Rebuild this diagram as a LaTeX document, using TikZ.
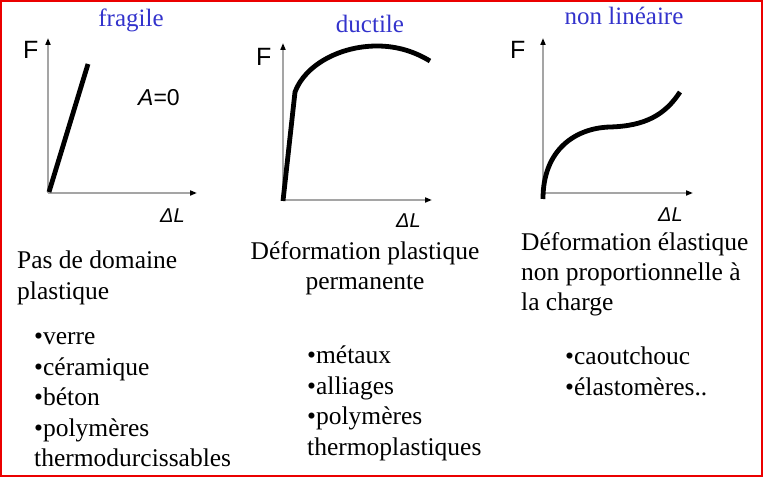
\documentclass[tikz,border=0pt]{standalone}
\usepackage{fontspec}
\setmainfont{Liberation Serif}
\newfontfamily\axisfont{Liberation Sans}
\usetikzlibrary{arrows.meta}
\definecolor{titleblue}{RGB}{51,51,204}
\definecolor{axisgray}{RGB}{165,165,165}
\definecolor{framered}{RGB}{235,0,0}

\begin{document}
\begin{tikzpicture}[x=1pt, y=-1pt,
  axis/.style={axisgray, line width=2pt, -{Triangle[length=7pt,width=5pt,color=black]}},
  curve/.style={black, line width=4.8pt},
  title/.style={titleblue, anchor=base, inner sep=0pt, font=\fontsize{25}{30}\selectfont},
  body/.style={anchor=base west, inner sep=0pt, font=\fontsize{25.5}{30}\selectfont},
  bodyc/.style={body, anchor=base},
  axlabel/.style={anchor=base west, inner sep=0pt, font=\axisfont\fontsize{25}{28}\selectfont},
  alabel/.style={axlabel, font=\axisfont\fontsize{23}{26}\selectfont},
  dlabel/.style={axlabel, font=\axisfont\itshape\fontsize{20}{24}\selectfont}]
  \useasboundingbox (0,0) rectangle (764,478);
  \draw[framered, line width=2pt] (1,1) rectangle (762,476);

  % fragile
  \coordinate (o1) at (48,193);
  \coordinate (y1) at (48,38);
  \coordinate (x1) at (197,193);
  \draw[axis] (o1) -- (y1);
  \draw[axis] (o1) -- (x1);
  \draw[curve] (49,192) -- (88,64);
  \node[title] (t1) at (131,27) {fragile};
  \node[axlabel] (f1) at (23,59) {F};
  \node[alabel] (a1) at (138,106) {\textit{A}=0};
  \node[dlabel] (d1) at (160,223) {ΔL};

  % ductile
  \coordinate (o2) at (283,200);
  \coordinate (y2) at (283,43);
  \coordinate (x2) at (432,200);
  \draw[axis] (o2) -- (y2);
  \draw[axis] (o2) -- (x2);
  \draw[curve] (283,201) -- (295,92)
    .. controls (305,65) and (340,46) .. (377,46)
    .. controls (398,46) and (415,52) .. (430,61);
  \node[title] (t2) at (370,33) {ductile};
  \node[axlabel] (f2) at (256,66) {F};
  \node[dlabel] (d2) at (396,228) {ΔL};

  % non lineaire
  \coordinate (o3) at (543,193);
  \coordinate (y3) at (543,38);
  \coordinate (x3) at (693,193);
  \draw[axis] (o3) -- (y3);
  \draw[axis] (o3) -- (x3);
  \draw[curve] (543,199) .. controls (543,150) and (575,128) .. (610,127)
    .. controls (645,126) and (665,115) .. (680,92);
  \node[title] (t3) at (624,25) {non linéaire};
  \node[axlabel] (f3) at (510,59) {F};
  \node[dlabel] (d3) at (658,222) {ΔL};

  % descriptions
  \node[body] (p1a) at (17,269) {Pas de domaine};
  \node[body] (p1b) at (17,300) {plastique};
  \node[bodyc] (p2a) at (365,260) {Déformation plastique};
  \node[bodyc] (p2b) at (365,290) {permanente};
  \node[body] (p3a) at (521,251) {Déformation élastique};
  \node[body] (p3b) at (521,281) {non proportionnelle à};
  \node[body] (p3c) at (521,311) {la charge};

  % materials
  \foreach \txt [count=\i] in {•verre, •céramique, •béton, •polymères, thermodurcissables}
    \node[body] (m1-\i) at (34,345+30.5*\i-30.5) {\txt};
  \foreach \txt [count=\i] in {•métaux, •alliages, •polymères, thermoplastiques}
    \node[body] (m2-\i) at (307,364+30.5*\i-30.5) {\txt};
  \foreach \txt [count=\i] in {•caoutchouc, •élastomères..}
    \node[body] (m3-\i) at (565,365+30.5*\i-30.5) {\txt};
\end{tikzpicture}
\end{document}
